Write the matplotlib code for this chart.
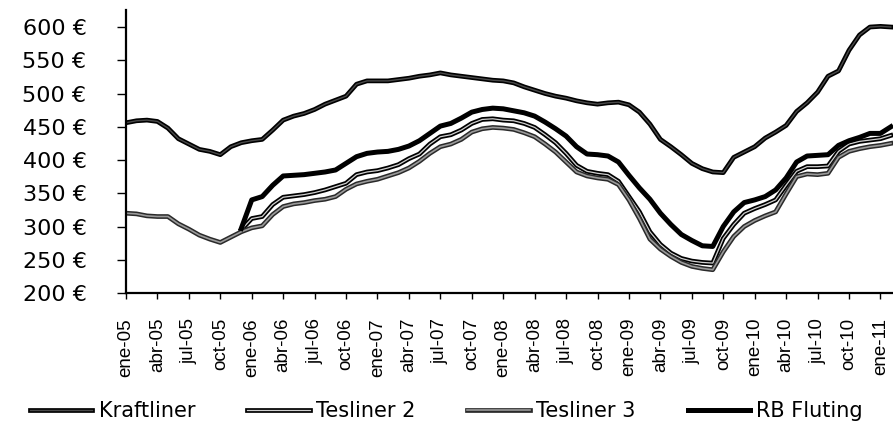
import matplotlib
matplotlib.use("Agg")
import numpy as np
import matplotlib.pyplot as plt
import matplotlib.patheffects as pe
from matplotlib import font_manager

# ---------------- data (monthly, starting ene-05) ----------------
tick_labels = ["ene-05", "abr-05", "jul-05", "oct-05", "ene-06", "abr-06", "jul-06", "oct-06",
               "ene-07", "abr-07", "jul-07", "oct-07", "ene-08", "abr-08", "jul-08", "oct-08",
               "ene-09", "abr-09", "jul-09", "oct-09", "ene-10", "abr-10", "jul-10", "oct-10",
               "ene-11"]
months_per_tick = 3

kraftliner = [456, 459, 460, 458, 448, 432, 424, 416, 413, 408,
              420, 426, 429, 431, 445, 460, 466, 470, 476, 484,
              490, 496, 514, 519, 519, 519, 521, 523, 526, 528,
              531, 528, 526, 524, 522, 520, 519, 516, 510, 505,
              500, 496, 493, 489, 486, 484, 486, 487, 483, 472,
              454, 431, 420, 408, 395, 387, 382, 381, 404, 412,
              420, 433, 442, 452, 473, 486, 502, 526, 534, 565,
              588, 600, 601, 600]

tesliner3 = [320, 319, 316, 315, 315, 304, 296, 287, 281, 276, 284, 292,
             298, 301, 318, 330, 334, 336, 339, 341, 345, 356,
             364, 368, 371, 376, 381, 388, 398, 410, 420, 424,
             431, 442, 447, 449, 448, 446, 441, 435, 424, 412,
             397, 382, 376, 373, 371, 363, 340, 312, 281, 266,
             255, 246, 240, 237, 235, 262, 285, 300, 309, 316,
             322, 349, 375, 379, 378, 380, 404, 413, 417, 420,
             422, 425]

tesliner2 = [None] * 11 + [295,
             312, 315, 333, 344, 346, 348, 351, 355, 360, 365,
             378, 382, 384, 388, 393, 402, 409, 424, 435, 438,
             445, 455, 461, 462, 460, 459, 455, 449, 438, 426,
             410, 392, 383, 380, 378, 368, 345, 322, 292, 273,
             260, 252, 248, 246, 245, 282, 303, 320, 327, 333,
             340, 362, 383, 390, 390, 391, 413, 424, 428, 430,
             432, 437]

rb_fluting = [None] * 11 + [297,
              340, 345, 362, 376, 377, 378, 380, 382, 385, 395,
              405, 410, 412, 413, 416, 421, 429, 440, 451, 455,
              463, 472, 476, 478, 477, 474, 471, 466, 457, 447,
              436, 420, 409, 408, 406, 397, 377, 358, 341, 320,
              303, 288, 279, 271, 270, 300, 322, 336, 340, 345,
              355, 373, 397, 406, 407, 408, 422, 429, 434, 440,
              440, 450]

series_names = ["Kraftliner", "Tesliner 2", "Tesliner 3", "RB Fluting"]
y_ticks = [200, 250, 300, 350, 400, 450, 500, 550, 600]

# ---------------- figure ----------------
W, H = 893, 422
fig = plt.figure(figsize=(W / 100, H / 100), dpi=100)
fig.patch.set_facecolor("white")
ax = fig.add_axes([126 / W, 1 - 293 / H, (W - 126) / W, (293 - 10.4) / H])

x = np.arange(len(kraftliner))
def arr(v):
    return np.array([np.nan if a is None else a for a in v], dtype=float)

lines = []
l, = ax.plot(x, arr(kraftliner), color="#4a4a4a", lw=1.0, solid_joinstyle="round",
             path_effects=[pe.Stroke(linewidth=3.4, foreground="black"), pe.Normal()])
lines.append(l)
l, = ax.plot(x, arr(tesliner2), color="#d0d0d0", lw=0.9, solid_joinstyle="round",
             path_effects=[pe.Stroke(linewidth=3.4, foreground="black"), pe.Normal()])
lines.append(l)
l, = ax.plot(x, arr(tesliner3), color="#9a9a9a", lw=1.2, solid_joinstyle="round",
             path_effects=[pe.Stroke(linewidth=3.4, foreground="#2a2a2a"), pe.Normal()])
lines.append(l)
l, = ax.plot(x, arr(rb_fluting), color="black", lw=3.6, solid_joinstyle="round")
lines.append(l)

ax.set_xlim(0, 73.2)
ax.set_ylim(200, 625)

for s in ["top", "right"]:
    ax.spines[s].set_visible(False)
for s in ["left", "bottom"]:
    ax.spines[s].set_linewidth(1.6)
    ax.spines[s].set_color("black")

# y axis
ax.set_yticks(y_ticks)
ax.set_yticklabels([f"{v} €" for v in y_ticks], fontsize=16, family="DejaVu Sans")
ax.tick_params(axis="y", direction="out", length=6.5, width=1.0, pad=22)

# x axis
names = {f.name for f in font_manager.fontManager.ttflist}
if "Liberation Sans Narrow" in names:
    xfam, xsize = "Liberation Sans Narrow", 16
elif "Liberation Sans" in names:
    xfam, xsize = "Liberation Sans", 13.5
else:
    xfam, xsize = "DejaVu Sans", 12
ax.set_xticks([i * months_per_tick for i in range(len(tick_labels))])
ax.set_xticklabels(tick_labels, rotation=90, fontsize=xsize, family=xfam)
ax.tick_params(axis="x", direction="out", length=4, width=1.0, pad=14)

fig.legend(lines, series_names, loc="center", bbox_to_anchor=(0.5, 11 / H), ncol=4,
           frameon=False, prop={"family": "DejaVu Sans", "size": 15},
           handlelength=3.0, handletextpad=0.3, columnspacing=2.5)

fig.savefig("out.png", dpi=100, facecolor="white")
